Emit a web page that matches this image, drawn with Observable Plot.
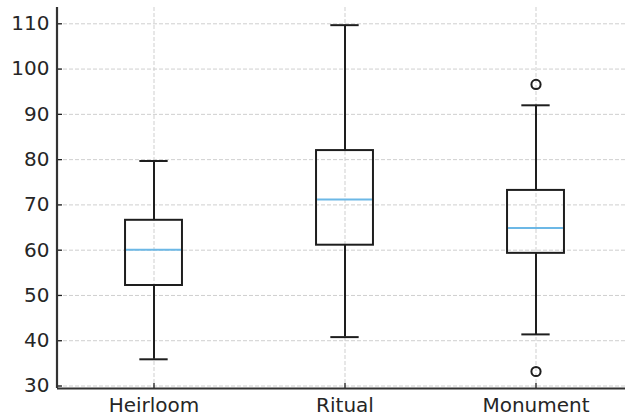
<!DOCTYPE html>
<html>
<head>
<meta charset="utf-8">
<script src="https://cdn.jsdelivr.net/npm/d3@7"></script>
<script src="https://cdn.jsdelivr.net/npm/@observablehq/plot@0.6"></script>
<style>
  html, body { margin: 0; padding: 0; background: #fff; }
</style>
</head>
<body>
<div id="chart"></div>
<script>
const categories = ["Heirloom", "Ritual", "Monument"];
const whiskerLow  = [35.9, 40.8, 41.4];
const q1          = [52.2, 61.1, 59.3];
const median      = [60.1, 71.2, 64.9];
const q3          = [66.6, 82.0, 73.2];
const whiskerHigh = [79.7, 109.7, 92.0];
const outlierCat  = ["Monument", "Monument"];
const outlierVal  = [96.6, 33.2];
const yTicks = [30, 40, 50, 60, 70, 80, 90, 100, 110];

const boxes = categories.map((c, i) => ({
  cat: c, lo: whiskerLow[i], q1: q1[i], med: median[i], q3: q3[i], hi: whiskerHigh[i]
}));
const outliers = outlierCat.map((c, i) => ({cat: c, v: outlierVal[i]}));

const W = 625, H = 419;
const mL = 57, mR = 0, mT = 7, mB = 31;
const fw = W - mL - mR, fh = H - mT - mB;
const xRange = [57, 632];
const band = (xRange[1] - xRange[0]) / categories.length;
const yDomain = [29.45, 113.6];
const boxIn = (band - 57.6) / 2, capIn = (band - 29) / 2;
const ink = "#1e1e1e";
const lw = 2;
const grid = {stroke: "#cfcfcf", strokeWidth: 1, strokeDasharray: "4,2"};

const chart = Plot.plot({
  width: W, height: H,
  marginLeft: mL, marginRight: mR, marginTop: mT, marginBottom: mB,
  style: {fontFamily: "DejaVu Sans", fontSize: "20px", color: "#262626", background: "#fff"},
  x: {type: "band", domain: categories, range: xRange, padding: 0, axis: null},
  y: {domain: yDomain, axis: null},
  marks: [
    Plot.ruleY(yTicks, {y: d => d, ...grid}),
    Plot.ruleX(categories, {x: d => d, ...grid}),
    Plot.ruleX(boxes, {x: "cat", y1: "q3", y2: "hi", stroke: ink, strokeWidth: lw}),
    Plot.ruleX(boxes, {x: "cat", y1: "lo", y2: "q1", stroke: ink, strokeWidth: lw}),
    Plot.tickY(boxes, {x: "cat", y: "hi", stroke: ink, strokeWidth: lw, insetLeft: capIn, insetRight: capIn}),
    Plot.tickY(boxes, {x: "cat", y: "lo", stroke: ink, strokeWidth: lw, insetLeft: capIn, insetRight: capIn}),
    Plot.barY(boxes, {x: "cat", y1: "q1", y2: "q3", fill: "none", stroke: ink, strokeWidth: lw, insetLeft: boxIn, insetRight: boxIn}),
    Plot.tickY(boxes, {x: "cat", y: "med", stroke: "#6cb8e6", strokeWidth: 2, insetLeft: boxIn + 1, insetRight: boxIn + 1}),
    Plot.dot(outliers, {x: "cat", y: "v", r: 4.6, stroke: ink, strokeWidth: lw, fill: "none"}),
    // inward tick marks
    Plot.tickY(yTicks, {y: d => d, stroke: ink, strokeWidth: 1.3, insetRight: fw - 5}),
    Plot.tickX(categories, {x: d => d, stroke: ink, strokeWidth: 1.3, insetTop: fh - 5}),
    // spines
    Plot.ruleY([yDomain[0]], {y: d => d, stroke: "#333", strokeWidth: 2.2}),
    Plot.rect([0], {y1: () => yDomain[0], y2: () => yDomain[1], fill: "#333", insetLeft: -1.1, insetRight: fw - 1.1}),
    Plot.axisY({ticks: yTicks, tickSize: 0, tickPadding: 8, fontSize: 20, label: null}),
    Plot.axisX({tickSize: 0, tickPadding: 9, fontSize: 20, label: null})
  ]
});
document.getElementById("chart").appendChild(chart);
</script>
</body>
</html>
